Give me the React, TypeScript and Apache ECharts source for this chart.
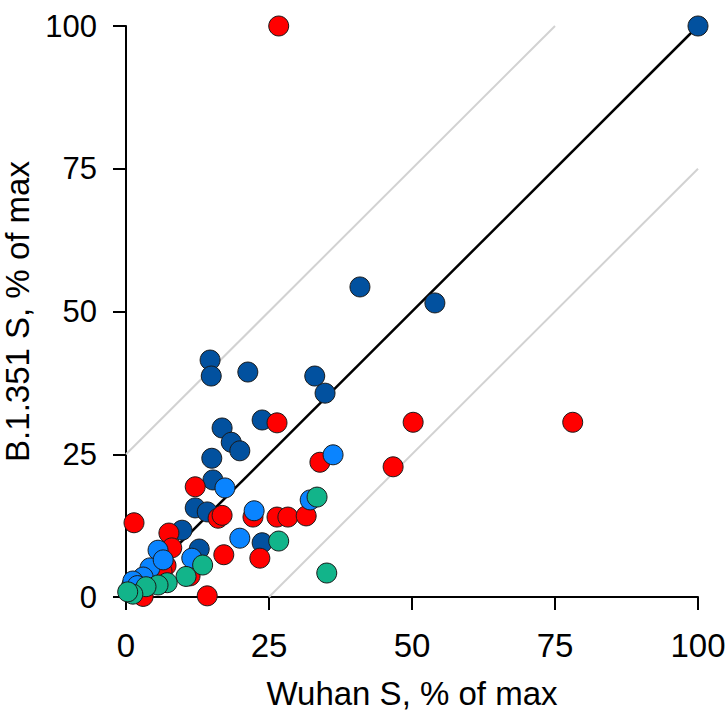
import React, { useEffect, useRef } from "react";
import * as echarts from "echarts";

// Wuhan S vs B.1.351 S binding, each as % of max, grouped by colour
const darkBlue: [number, number][] = [
  [100, 100], [40.9, 54.3], [54.0, 51.5], [14.7, 41.5], [14.9, 38.7], [21.3, 39.4],
  [33.0, 38.7], [34.8, 35.7], [23.8, 31.0], [16.8, 29.6], [18.4, 27.1], [19.9, 25.6],
  [15.0, 24.3], [15.2, 20.5], [12.1, 15.6], [14.2, 14.9], [9.8, 11.7], [12.8, 8.4],
  [23.8, 9.5], [1.0, 2.0], [2.5, 2.8], [0.5, 1.0],
];
const red: [number, number][] = [
  [26.7, 100], [26.4, 30.5], [50.2, 30.6], [78.1, 30.6], [46.7, 22.8], [33.9, 23.6],
  [26.4, 14.0], [28.3, 14.0], [31.5, 14.2], [22.2, 14.0], [23.4, 6.8], [17.1, 7.4],
  [16.1, 13.8], [16.8, 14.3], [12.1, 19.3], [1.4, 13.0], [7.5, 11.2], [8.0, 8.6],
  [7.0, 5.5], [6.3, 4.5], [11.2, 3.7], [14.2, 0.2], [3.0, 0.1],
];
const lightBlue: [number, number][] = [
  [36.2, 24.9], [32.2, 17.0], [22.4, 15.1], [19.9, 10.3], [17.3, 19.1], [5.6, 8.2],
  [4.2, 5.1], [11.5, 6.8], [6.5, 6.5], [3.0, 3.5], [1.2, 2.8], [2.0, 2.0],
];
const green: [number, number][] = [
  [33.4, 17.5], [26.7, 9.8], [35.1, 4.2], [13.4, 5.6], [10.5, 3.6], [7.2, 2.5],
  [5.6, 2.1], [3.5, 1.8], [1.2, 0.5], [0.3, 0.9],
];

// identity line and ±25 guide lines
const identityLine: [number, number][] = [[0, 0], [100, 100]];
const upperGuide: [number, number][] = [[0, 25], [75, 100]];
const lowerGuide: [number, number][] = [[25, 0], [100, 75]];

const axisTicks = [0, 25, 50, 75, 100];

const FONT = "'Liberation Sans', Arial, sans-serif";

export default function App() {
  const ref = useRef<HTMLDivElement>(null);

  useEffect(() => {
    if (!ref.current) return;
    const chart = echarts.init(ref.current, undefined, { renderer: "svg" });

    const scatter = (name: string, data: [number, number][], color: string, z: number) => ({
      name,
      type: "scatter",
      data,
      symbol: "circle",
      symbolSize: 20,
      z,
      itemStyle: { color, borderColor: "#1a1a1a", borderWidth: 1, opacity: 1 },
    });

    const guide = (data: [number, number][], color: string, width: number) => ({
      type: "line",
      data,
      symbol: "none",
      z: 1,
      lineStyle: { color, width },
      silent: true,
    });

    const axisCommon = {
      type: "value",
      min: axisTicks[0],
      max: axisTicks[axisTicks.length - 1],
      interval: 25,
      splitLine: { show: false },
      axisLine: { show: true, onZero: false, lineStyle: { color: "#000", width: 2 } },
      axisTick: { show: true, inside: false, length: 13, lineStyle: { color: "#000", width: 2 } },
      nameLocation: "middle",
      nameTextStyle: { fontFamily: FONT, fontSize: 33, color: "#000" },
    };

    chart.setOption({
      animation: false,
      backgroundColor: "#fff",
      grid: {
        left: 126,
        right: 30,
        top: 26,
        bottom: 116,
        containLabel: false,
        outerBoundsMode: "none",
      },
      xAxis: {
        ...axisCommon,
        name: "Wuhan S, % of max",
        nameGap: 80,
        axisLabel: { fontFamily: FONT, fontSize: 33, color: "#000", margin: 32 },
      },
      yAxis: {
        ...axisCommon,
        name: "B.1.351 S, % of max",
        nameGap: 85,
        nameRotate: 90,
        axisLabel: { fontFamily: FONT, fontSize: 31, color: "#000", margin: 29 },
      },
      series: [
        guide(upperGuide, "#d2d2d2", 2),
        guide(lowerGuide, "#d2d2d2", 2),
        guide(identityLine, "#000", 2.5),
        scatter("dark blue", darkBlue, "#02519f", 3),
        scatter("red", red, "#ff0000", 4),
        scatter("light blue", lightBlue, "#0a84ff", 5),
        scatter("green", green, "#12b48a", 6),
      ],
    });

    return () => chart.dispose();
  }, []);

  return (
    <div
      ref={ref}
      style={{ position: "fixed", left: 0, top: 0, width: 728, height: 713, background: "#fff" }}
    />
  );
}
